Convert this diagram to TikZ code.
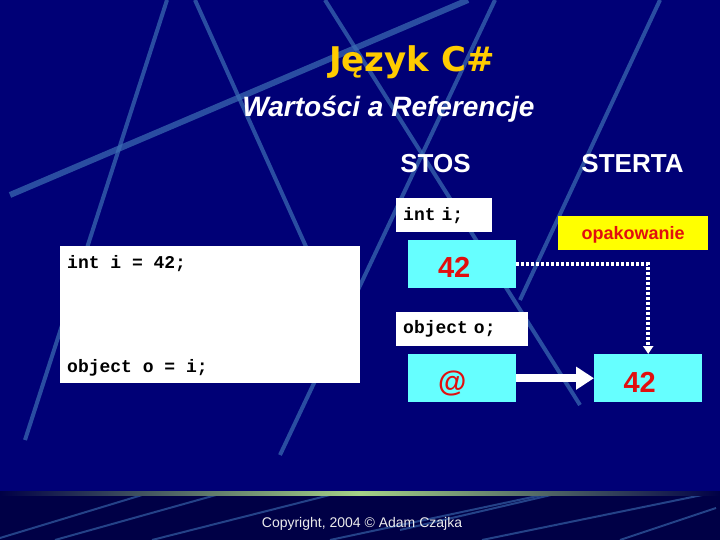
\documentclass[tikz,border=0pt]{standalone}
\usepackage{fontspec}
\setmainfont{Liberation Sans}
\newfontfamily\codefont{Liberation Mono}
\newfontfamily\tytulfont{DejaVu Sans}
\usetikzlibrary{arrows.meta,calc}
\definecolor{tlo}{RGB}{0,0,118}
\definecolor{tlociemne}{RGB}{0,0,70}
\definecolor{linia}{RGB}{60,110,180}
\definecolor{zielony}{RGB}{165,210,135}
\definecolor{cyjan}{RGB}{102,255,255}
\definecolor{zolty}{RGB}{255,255,0}
\definecolor{czerwony}{RGB}{225,15,15}
\definecolor{zloty}{RGB}{255,204,0}
\begin{document}
\begin{tikzpicture}[x=1pt,y=-1pt,
        deco/.style={linia,line width=4pt,opacity=0.7},
        pasek/.style={linia,line width=2pt,opacity=0.6},
        kod/.style={font=\codefont\fontsize{18}{20}\selectfont\bfseries,text=black,inner sep=0pt},
        pole/.style={fill=white,anchor=north west,inner sep=0pt},
        deklaracja/.style={pole,kod,inner xsep=7pt,align=left,minimum height=34pt},
        komorka/.style={fill=cyjan,anchor=north west,inner sep=0pt,minimum width=108pt,minimum height=48pt},
        liczba/.style={font=\fontsize{29}{30}\selectfont\bfseries,text=czerwony,anchor=base,inner sep=0pt},
        naglowek/.style={font=\fontsize{26}{28}\selectfont\bfseries,text=white,anchor=base,inner sep=0pt}]
        \useasboundingbox (0,0) rectangle (720,540);
        \fill[tlo] (0,0) rectangle (720,540);
        \fill[tlociemne] (0,493) rectangle (720,540);
        \draw[deco] (167,0) -- (25,440);
        \draw[deco] (195,0) -- (330,300);
        \draw[deco,line width=6pt] (10,195) -- (468,0);
        \draw[deco] (325,0) -- (580,405);
        \draw[deco] (495,0) -- (280,455);
        \draw[deco] (660,0) -- (520,300);
        \begin{scope}
            \clip (0,495) rectangle (720,540);
            \draw[pasek] (0,538) -- (152,492);
            \draw[pasek] (55,540) -- (216,495);
            \draw[pasek] (152,540) -- (330,495);
            \draw[pasek] (330,540) -- (542,495);
            \draw[pasek] (400,530) -- (551,495);
            \draw[pasek] (482,540) -- (712,493);
            \draw[pasek] (620,540) -- (716,508);
        \end{scope}
        \shade[left color=tlociemne,right color=zielony] (0,491) rectangle (360,495);
        \shade[left color=zielony,right color=tlociemne] (360,491) rectangle (720,495);

        \node[font=\tytulfont\fontsize{34}{36}\selectfont\bfseries,text=zloty,anchor=base] (tytul) at (412,72) {Język C\#};
        \node[font=\fontsize{28}{30}\selectfont\bfseries\itshape,text=white,anchor=base] (podtytul) at (388.5,117) {Wartości a Referencje};
        \node[naglowek] (stos) at (435.5,173) {STOS};
        \node[naglowek] (sterta) at (632.5,173) {STERTA};

        \node[pole,minimum width=300pt,minimum height=137pt] (kodpole) at (60,246) {};
        \node[kod,anchor=base west] (kodint) at (67,268) {int i = 42;};
        \node[kod,anchor=base west] (kodobj) at (67,372) {object o = i;};

        \node[deklaracja,text width=82pt] (deklint) at (396,198) {int i;};
        \node[deklaracja,text width=118pt] (deklobj) at (396,312) {object o;};
        \node[fill=zolty,anchor=north west,inner sep=0pt,minimum width=150pt,minimum height=34pt,text depth=0pt,
            font=\fontsize{18}{20}\selectfont\bfseries,text=czerwony] (opak) at (558,216) {opakowanie};

        \node[komorka] (wartosc) at (408,240) {};
        \node[komorka] (adres) at (408,354) {};
        \node[komorka] (obiekt) at (594,354) {};
        \node[liczba] (liczba1) at ($(wartosc.center)+(-8,13.5)$) {42};
        \node[liczba] (znak) at ($(adres.center)+(-10,13)$) {@};
        \node[liczba] (liczba2) at ($(obiekt.center)+(-8.5,14)$) {42};

        \draw[white,line width=8pt,-{Triangle[length=18pt,width=22pt]}] (adres.east) -- (obiekt.west);
        \draw[white,line width=4pt,dash pattern=on 3pt off 2pt,-{Triangle[length=8pt,width=10pt]}] (wartosc.east) -| (obiekt.north);

        \node[font=\fontsize{14}{16}\selectfont,text=white!85!gray,anchor=base] (stopka) at (362,527) {Copyright, 2004 © Adam Czajka};
    \end{tikzpicture}
\end{document}
